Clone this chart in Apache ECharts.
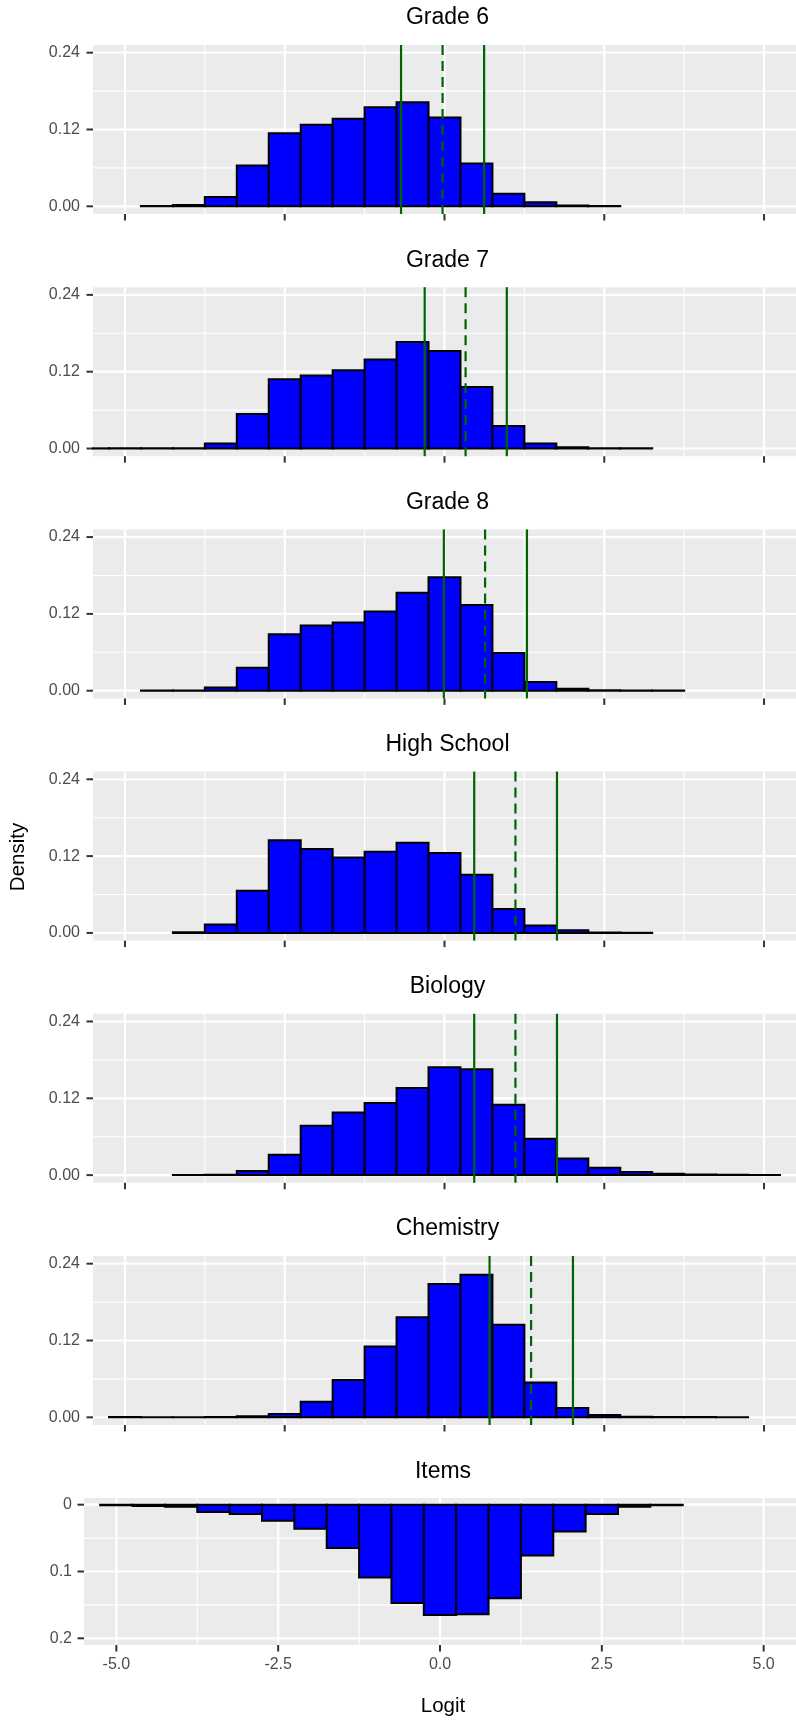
<!DOCTYPE html>
<html><head><meta charset="utf-8">
<script src="https://cdn.jsdelivr.net/npm/echarts@6.0.0/dist/echarts.min.js"></script>
<style>html,body{margin:0;padding:0;background:#fff}#c{width:796px;height:1720px}</style>
</head><body><div id="c"></div>
<script>
// ---------- data ----------
const binWidth = 0.5;
const xTicks = [-5, -2.5, 0, 2.5, 5];
const xMinor = [-3.75, -1.25, 1.25, 3.75];
const densityTicks = [0, 0.12, 0.24];
const densityMinor = [0.06, 0.18];
const itemTicks = [0, 0.1, 0.2];
const itemMinor = [0.05, 0.15];

const panelTitles = ['Grade 6', 'Grade 7', 'Grade 8', 'High School', 'Biology', 'Chemistry'];

const grade6Bins = [-4.5,-4,-3.5,-3,-2.5,-2,-1.5,-1,-0.5,0,0.5,1,1.5,2,2.5];
const grade6Density = [0.0004,0.002,0.0146,0.0639,0.1143,0.1273,0.1366,0.1549,0.1627,0.1387,0.067,0.0198,0.0062,0.0012,0.0004];
const grade6Lines = [-0.68, -0.03, 0.62];

const grade7Bins = [-5.5,-5,-4.5,-4,-3.5,-3,-2.5,-2,-1.5,-1,-0.5,0,0.5,1,1.5,2,2.5,3];
const grade7Density = [0.0003,0.0003,0.0003,0.0004,0.0078,0.0539,0.1082,0.114,0.1224,0.1391,0.1663,0.1522,0.0962,0.035,0.0078,0.002,0.0005,0.0003];
const grade7Lines = [-0.31, 0.33, 0.975];

const grade8Bins = [-4.5,-4,-3.5,-3,-2.5,-2,-1.5,-1,-0.5,0,0.5,1,1.5,2,2.5,3,3.5];
const grade8Density = [0.0003,0.0005,0.005,0.036,0.0884,0.102,0.1067,0.1239,0.1532,0.1773,0.1339,0.0591,0.0136,0.003,0.0008,0.0004,0.0003];
const grade8Lines = [-0.01, 0.635, 1.29];

const highSchoolBins = [-4,-3.5,-3,-2.5,-2,-1.5,-1,-0.5,0,0.5,1,1.5,2,2.5,3];
const highSchoolDensity = [0.001,0.0131,0.066,0.1447,0.131,0.118,0.1268,0.141,0.1247,0.0907,0.0372,0.0115,0.004,0.0008,0.0004];
const highSchoolLines = [0.465, 1.11, 1.76];

const biologyBins = [-4,-3.5,-3,-2.5,-2,-1.5,-1,-0.5,0,0.5,1,1.5,2,2.5,3,3.5,4,4.5,5];
const biologyDensity = [0.0003,0.0005,0.0063,0.0318,0.0772,0.098,0.1127,0.1362,0.1685,0.1654,0.1101,0.0569,0.0261,0.0115,0.0047,0.002,0.0008,0.0004,0.0003];
const biologyLines = [0.465, 1.11, 1.76];

const chemistryBins = [-5,-4.5,-4,-3.5,-3,-2.5,-2,-1.5,-1,-0.5,0,0.5,1,1.5,2,2.5,3,3.5,4,4.5];
const chemistryDensity = [0.0004,0.0003,0.0003,0.0005,0.0015,0.005,0.0245,0.0584,0.1106,0.1565,0.2082,0.2228,0.1445,0.0543,0.0146,0.0037,0.0008,0.0005,0.0004,0.0003];
const chemistryLines = [0.705, 1.355, 2.01];

const itemBins = [-5,-4.5,-4,-3.5,-3,-2.5,-2,-1.5,-1,-0.5,0,0.5,1,1.5,2,2.5,3,3.5];
const itemDensity = [0.001,0.002,0.003,0.011,0.014,0.024,0.036,0.065,0.109,0.147,0.165,0.164,0.14,0.076,0.04,0.014,0.003,0.001];

// ---------- layout / style ----------
const FONT = '"Liberation Sans", Arial, sans-serif';
const densPanels = [
  {bins: grade6Bins, vals: grade6Density, lines: grade6Lines},
  {bins: grade7Bins, vals: grade7Density, lines: grade7Lines},
  {bins: grade8Bins, vals: grade8Density, lines: grade8Lines},
  {bins: highSchoolBins, vals: highSchoolDensity, lines: highSchoolLines},
  {bins: biologyBins, vals: biologyDensity, lines: biologyLines},
  {bins: chemistryBins, vals: chemistryDensity, lines: chemistryLines}
];
const L = {
  densTop: 45, step: 242.2, densH: 169, densLeft: 93, densW: 709,
  itemTop: 1498, itemH: 147, itemLeft: 84, itemW: 718,
  titleY0: 18, tickLen: 6.5
};

function renderGrid(params, api) {
  const cs = params.coordSys;
  const dir = api.value(2), major = api.value(3);
  const p = api.coord([api.value(0), api.value(1)]);
  const shape = dir === 0
    ? {x1: p[0], y1: cs.y, x2: p[0], y2: cs.y + cs.height}
    : {x1: cs.x, y1: p[1], x2: cs.x + cs.width, y2: p[1]};
  return {type: 'line', shape, style: {stroke: '#FFFFFF', lineWidth: major ? 2.2 : 1.1}};
}
function renderTick(params, api) {
  const cs = params.coordSys;
  const dir = api.value(2);
  const p = api.coord([api.value(0), api.value(1)]);
  const shape = dir === 0
    ? {x1: p[0], y1: cs.y + cs.height, x2: p[0], y2: cs.y + cs.height + L.tickLen}
    : {x1: cs.x - L.tickLen, y1: p[1], x2: cs.x, y2: p[1]};
  return {type: 'line', shape, style: {stroke: '#333333', lineWidth: 2}};
}
function renderBar(params, api) {
  const x = api.value(0), h = api.value(1);
  const p0 = api.coord([x - binWidth / 2, 0]);
  const p1 = api.coord([x + binWidth / 2, h]);
  const cs = params.coordSys;
  let rect = {x: Math.min(p0[0], p1[0]), y: Math.min(p0[1], p1[1]),
              width: Math.abs(p1[0] - p0[0]), height: Math.abs(p1[1] - p0[1])};
  rect = echarts.graphic.clipRectByRect(rect, {x: cs.x, y: cs.y, width: cs.width, height: cs.height});
  if (!rect) return null;
  return {type: 'rect', shape: rect, style: {fill: '#0000FF', stroke: '#000000', lineWidth: 2}};
}
function renderVLine(params, api) {
  const cs = params.coordSys;
  const p = api.coord([api.value(0), 0]);
  const dashed = api.value(1) === 1;
  return {type: 'line', shape: {x1: p[0], y1: cs.y, x2: p[0], y2: cs.y + cs.height},
          style: {stroke: '#006400', lineWidth: 2.2, lineDash: dashed ? [10, 6] : null}};
}
function gridData(xs, xm, ys, ym) {
  const d = [];
  xm.forEach(v => d.push([v, 0, 0, 0]));
  ym.forEach(v => d.push([0, v, 1, 0]));
  xs.forEach(v => d.push([v, 0, 0, 1]));
  ys.forEach(v => d.push([0, v, 1, 1]));
  return d;
}
function tickData(xs, ys) {
  const d = [];
  xs.forEach(v => d.push([v, 0, 0]));
  ys.forEach(v => d.push([0, v, 1]));
  return d;
}

const grids = [], xAxes = [], yAxes = [], series = [], graphics = [];
const labelStyle = {color: '#4D4D4D', fontSize: 16, fontFamily: FONT};

function addSeries(i, gData, tData, barData, lineData) {
  series.push({type: 'custom', xAxisIndex: i, yAxisIndex: i, z: 1, silent: true, clip: false,
    renderItem: renderGrid, data: gData});
  series.push({type: 'custom', xAxisIndex: i, yAxisIndex: i, z: 1, silent: true, clip: false,
    renderItem: renderTick, data: tData});
  series.push({type: 'custom', xAxisIndex: i, yAxisIndex: i, z: 2, silent: true, clip: false,
    renderItem: renderBar, data: barData});
  if (lineData) series.push({type: 'custom', xAxisIndex: i, yAxisIndex: i, z: 3, silent: true, clip: false,
    renderItem: renderVLine, data: lineData});
}

densPanels.forEach((p, i) => {
  const top = L.densTop + L.step * i;
  grids.push({left: L.densLeft, top: top, width: L.densW, height: L.densH,
              show: true, backgroundColor: '#EBEBEB', borderWidth: 0, containLabel: false});
  xAxes.push({type: 'value', gridIndex: i, min: -5.5, max: 5.5,
    axisLine: {show: false}, splitLine: {show: false}, axisTick: {show: false},
    axisLabel: {show: false}});
  yAxes.push({type: 'value', gridIndex: i, min: -0.012, max: 0.252,
    axisLine: {show: false}, splitLine: {show: false}, axisTick: {show: false},
    axisLabel: Object.assign({show: true, customValues: densityTicks, margin: 13,
      formatter: v => Number(v).toFixed(2)}, labelStyle)});
  addSeries(i, gridData(xTicks, xMinor, densityTicks, densityMinor),
    tickData(xTicks, densityTicks),
    p.bins.map((b, k) => [b, p.vals[k]]),
    p.lines.map((v, k) => [v, k === 1 ? 1 : 0]));
  graphics.push({type: 'text', x: L.densLeft + L.densW / 2, y: L.titleY0 + L.step * i,
    style: {text: panelTitles[i], fill: '#000000', font: '23px ' + FONT, align: 'center', verticalAlign: 'middle'}});
});

// Items panel
const ii = densPanels.length;
grids.push({left: L.itemLeft, top: L.itemTop, width: L.itemW, height: L.itemH,
            show: true, backgroundColor: '#EBEBEB', borderWidth: 0});
xAxes.push({type: 'value', gridIndex: ii, min: -5.5, max: 5.5,
  axisLine: {show: false}, splitLine: {show: false}, axisTick: {show: false},
  axisLabel: Object.assign({show: true, customValues: xTicks, margin: 12,
    formatter: v => Number(v).toFixed(1)}, labelStyle)});
yAxes.push({type: 'value', gridIndex: ii, min: -0.01, max: 0.21, inverse: true,
  axisLine: {show: false}, splitLine: {show: false}, axisTick: {show: false},
  axisLabel: Object.assign({show: true, customValues: itemTicks, margin: 12,
    formatter: v => (Number(v) === 0 ? '0' : String(Number(v)))}, labelStyle)});
addSeries(ii, gridData(xTicks, xMinor, itemTicks, itemMinor),
  tickData(xTicks, itemTicks),
  itemBins.map((b, k) => [b, itemDensity[k]]), null);
graphics.push({type: 'text', x: L.itemLeft + L.itemW / 2, y: L.titleY0 + L.step * ii,
  style: {text: 'Items', fill: '#000000', font: '23px ' + FONT, align: 'center', verticalAlign: 'middle'}});

// axis titles
graphics.push({type: 'text', x: 18, y: 857, rotation: Math.PI / 2,
  style: {text: 'Density', fill: '#000000', font: '20.5px ' + FONT, align: 'center', verticalAlign: 'middle'}});
graphics.push({type: 'text', x: L.itemLeft + L.itemW / 2, y: 1706,
  style: {text: 'Logit', fill: '#000000', font: '20.5px ' + FONT, align: 'center', verticalAlign: 'middle'}});

const chart = echarts.init(document.getElementById('c'), null, {renderer: 'canvas'});
chart.setOption({
  animation: false,
  backgroundColor: '#FFFFFF',
  grid: grids, xAxis: xAxes, yAxis: yAxes, series: series,
  graphic: {elements: graphics}
});
</script>
</body></html>
